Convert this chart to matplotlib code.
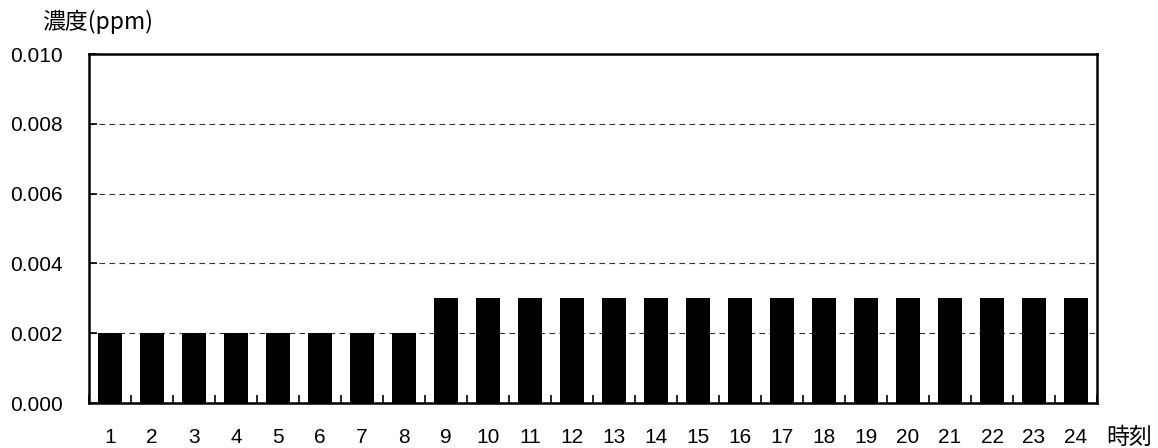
import matplotlib
matplotlib.use("Agg")
import matplotlib.pyplot as plt
import numpy as np

plt.rcParams['font.family'] = ['Liberation Sans', 'Noto Sans CJK JP', 'DejaVu Sans']

hours = list(range(1, 25))
values = [0.002]*8 + [0.003]*16
y_ticks = [0.000, 0.002, 0.004, 0.006, 0.008, 0.010]

fig = plt.figure(figsize=(11.58, 4.48), dpi=100)
ax = fig.add_axes([89/1158, 1-403/448, (1097-89)/1158, (403-54)/448])

x = np.arange(len(hours))
ax.bar(x, values, width=0.55, color='black', zorder=3)
ax.set_xlim(-0.5, len(hours)-0.5)
ax.set_ylim(0, 0.010)

ax.set_yticks(y_ticks)
ax.set_yticklabels([f"{v:.3f}" for v in y_ticks], fontsize=15)
for v in y_ticks[1:-1]:
    ax.axhline(v, color='#333333', lw=0.8, ls=(0, (5, 4)), zorder=1)

ax.set_xticks(x)
ax.set_xticklabels([str(h) for h in hours], fontsize=15)
ax.tick_params(axis='x', which='major', length=0, pad=18)
ax.set_xticks(np.arange(len(hours)+1)-0.5, minor=True)
ax.tick_params(axis='x', which='minor', direction='in', length=6, width=1.2)
ax.tick_params(axis='y', direction='in', length=6, width=1.2, pad=19)

for s in ax.spines.values():
    s.set_linewidth(1.8)
    s.set_color('black')

fig.text(42/1158, 1-22/448, '濃度(ppm)', fontsize=16.5, ha='left', va='center',
         family=['Noto Sans CJK JP', 'DejaVu Sans'])
fig.text(1106/1158, 1-437/448, '時刻', fontsize=16.5, ha='left', va='center',
         family=['Noto Sans CJK JP', 'DejaVu Sans'])

fig.savefig('out.png', dpi=100)
